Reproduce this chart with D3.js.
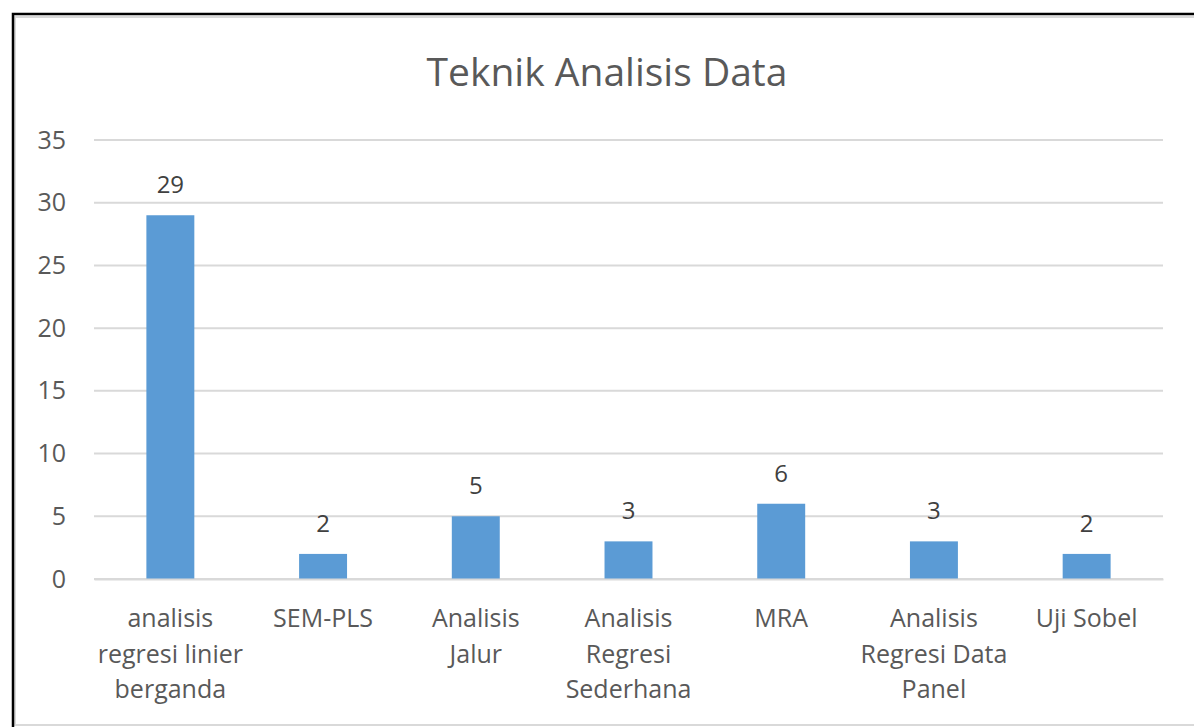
<!DOCTYPE html>
<html>
<head>
<meta charset="utf-8">
<script src="https://cdn.jsdelivr.net/npm/d3@7"></script>
<style>
  html, body { margin: 0; padding: 0; background: #fff; }
  svg { display: block; font-family: "Open Sans", Lato, sans-serif; }
</style>
</head>
<body>
<svg id="chart"></svg>
<script>
(function () {
    var categories = ['analisis\nregresi linier\nberganda', 'SEM-PLS', 'Analisis\nJalur', 'Analisis\nRegresi\nSederhana', 'MRA', 'Analisis\nRegresi Data\nPanel', 'Uji Sobel'];
    var values = [29, 2, 5, 3, 6, 3, 2];
    var yTicks = [0, 5, 10, 15, 20, 25, 30, 35];

    var width = 1194, height = 727;
    var svg = d3.select('#chart').attr('width', width).attr('height', height);

    // frame
    svg.append('rect').attr('x', 15).attr('y', 17).attr('width', width - 14).attr('height', 708)
        .attr('fill', 'none').attr('stroke', '#d9d9d9').attr('stroke-width', 2);
    svg.append('path').attr('d', 'M13,727 V14 H1194').attr('fill', 'none').attr('stroke', '#000').attr('stroke-width', 2.5);

    svg.append('text').attr('x', 607).attr('y', 86).attr('text-anchor', 'middle')
        .attr('font-size', 39).attr('fill', '#595959').text('Teknik Analisis Data');

    var left = 94, right = 1163, top = 140, bottom = 579;
    var x = d3.scaleBand().domain(categories).range([left, right]).paddingInner(0.686).paddingOuter(0.343);
    var y = d3.scaleLinear().domain([0, 35]).range([bottom, top]);

    var grid = svg.append('g');
    grid.selectAll('line').data(yTicks).enter().append('line')
        .attr('x1', left).attr('x2', right)
        .attr('y1', d => y(d)).attr('y2', d => y(d))
        .attr('stroke', '#d9d9d9').attr('stroke-width', 2);

    var yAxis = svg.append('g').attr('transform', 'translate(' + left + ',0)')
        .call(d3.axisLeft(y).tickValues(yTicks).tickSize(0).tickPadding(28));
    yAxis.select('.domain').remove();
    yAxis.selectAll('text').attr('font-size', 25).attr('fill', '#595959').attr('font-family', '"Open Sans", sans-serif');

    svg.selectAll('.bar').data(values).enter().append('rect')
        .attr('class', 'bar')
        .attr('x', (d, i) => x(categories[i]))
        .attr('y', d => y(d))
        .attr('width', x.bandwidth())
        .attr('height', d => y(0) - y(d))
        .attr('fill', '#5b9bd5');

    svg.selectAll('.lbl').data(values).enter().append('text')
        .attr('class', 'lbl')
        .attr('x', (d, i) => x(categories[i]) + x.bandwidth() / 2)
        .attr('y', d => y(d) - 22)
        .attr('text-anchor', 'middle').attr('font-size', 24).attr('fill', '#404040')
        .text(d => d);

    var xAxis = svg.append('g').attr('transform', 'translate(0,' + bottom + ')')
        .call(d3.axisBottom(x).tickSize(0).tickFormat(''));
    xAxis.select('.domain').attr('stroke', '#d9d9d9').attr('stroke-width', 2);

    var cat = svg.selectAll('.cat').data(categories).enter().append('text')
        .attr('class', 'cat')
        .attr('x', d => x(d) + x.bandwidth() / 2)
        .attr('y', 627)
        .attr('text-anchor', 'middle').attr('font-size', 25).attr('fill', '#595959');
    cat.each(function (d) {
        var t = d3.select(this);
        d.split('\n').forEach(function (line, k) {
            t.append('tspan').attr('x', t.attr('x')).attr('y', 627 + k * 35.5).text(line);
        });
    });
})();
</script>
</body>
</html>
